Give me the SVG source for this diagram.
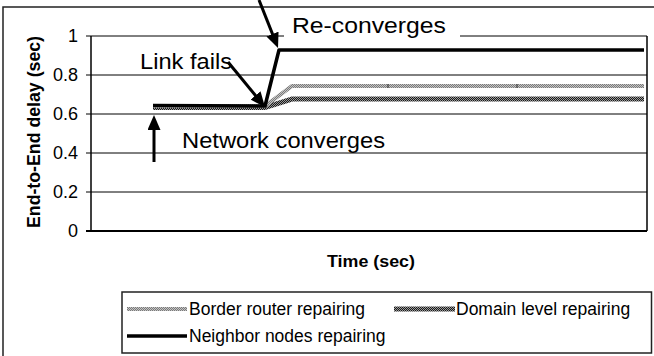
<svg xmlns="http://www.w3.org/2000/svg" width="654" height="356" viewBox="0 0 654 356">
<style>
.t{font-family:"Liberation Sans",Arial,sans-serif;fill:#000}
.tick{font-size:18px;text-anchor:end}
.ann{font-size:22.5px}
.leg{font-size:17.5px}
.b{font-weight:bold}
.grid{stroke:#000;stroke-width:1;fill:none}
.arrow{stroke:#000;stroke-width:3;fill:none;marker-end:url(#ah)}
.nb{stroke:#000;stroke-width:3.5;fill:none;stroke-linejoin:round}
.br{stroke:url(#pBorder);stroke-width:4;fill:none}
.dm{stroke:url(#pDomain);stroke-width:5;fill:none}
</style>
<defs>
<pattern id="pBorder" width="2" height="2" patternUnits="userSpaceOnUse">
<rect width="2" height="2" fill="#c4c4c4"/>
<rect width="1" height="1" fill="#7a7a7a"/>
<rect x="1" y="1" width="1" height="1" fill="#7a7a7a"/>
</pattern>
<pattern id="pDomain" width="2" height="2" patternUnits="userSpaceOnUse">
<rect width="2" height="2" fill="#1a1a1a"/>
<rect width="1" height="1" fill="#9a9a9a"/>
<rect x="1" y="1" width="1" height="1" fill="#9a9a9a"/>
</pattern>
<marker id="ah" markerUnits="userSpaceOnUse" viewBox="0 0 15 13" markerWidth="15" markerHeight="13" refX="9" refY="6.5" orient="auto">
<path d="M0,0 L15,6.5 L0,13 Z" fill="#000"/>
</marker>
</defs>
<rect width="654" height="356" fill="#fff"/>
<rect x="3" y="7" width="670" height="370" fill="none" stroke="#222" stroke-width="1.5"/>

<g id="plot-area">
<line class="grid" x1="91" y1="75" x2="647" y2="75"/>
<line class="grid" x1="91" y1="114" x2="647" y2="114"/>
<line class="grid" x1="91" y1="153" x2="647" y2="153"/>
<line class="grid" x1="91" y1="192" x2="647" y2="192"/>
<line class="grid" x1="91" y1="36" x2="647" y2="36"/>
<line x1="647" y1="36" x2="647" y2="231" stroke="#000" stroke-width="1.5"/>
<line x1="91" y1="36" x2="91" y2="231" stroke="#000" stroke-width="1.5"/>
<line x1="86" y1="231" x2="647" y2="231" stroke="#000" stroke-width="2"/>
<g stroke="#000" stroke-width="1">
<line x1="86" y1="36" x2="91" y2="36"/>
<line x1="86" y1="75" x2="91" y2="75"/>
<line x1="86" y1="114" x2="91" y2="114"/>
<line x1="86" y1="153" x2="91" y2="153"/>
<line x1="86" y1="192" x2="91" y2="192"/>
</g>
</g>

<g id="y-axis-labels">
<text class="t tick" x="78" y="42">1</text>
<text class="t tick" x="78" y="81">0.8</text>
<text class="t tick" x="78" y="120">0.6</text>
<text class="t tick" x="78" y="159">0.4</text>
<text class="t tick" x="78" y="198">0.2</text>
<text class="t tick" x="78" y="237">0</text>
<text class="t b" font-size="17.5" text-anchor="middle" textLength="192" lengthAdjust="spacingAndGlyphs" transform="translate(40,132) rotate(-90)">End-to-End delay (sec)</text>
</g>
<g id="x-axis-label">
<text class="t b" font-size="16.5" x="327" y="267" textLength="88" lengthAdjust="spacingAndGlyphs">Time (sec)</text>
</g>

<g id="series">
<polyline id="domain-level" class="dm" points="153,107.5 265,107.5 292,99 644,99"/>
<polyline id="border-router" class="br" points="153,106 265,106 292,86 644,86"/>
<g stroke="#333" stroke-width="1">
<line x1="388" y1="84" x2="388" y2="88"/>
<line x1="517" y1="84" x2="517" y2="88"/>
</g>
<polyline id="neighbor-nodes" class="nb" points="153,105.5 265,106 279,50 644,50"/>
</g>

<g id="annotation-reconverges">
<rect x="284" y="14" width="176" height="26" fill="#fff"/>
<text class="t ann" x="292" y="33" textLength="154" lengthAdjust="spacingAndGlyphs">Re-converges</text>
</g>
<g id="annotation-linkfails">
<text class="t ann" x="140" y="69" textLength="92" lengthAdjust="spacingAndGlyphs">Link fails</text>
</g>
<g id="annotation-networkconverges">
<text class="t ann" x="182" y="148" textLength="203" lengthAdjust="spacingAndGlyphs">Network converges</text>
</g>

<g id="connectors">
<line class="arrow" x1="259" y1="0" x2="275.8" y2="42.4"/>
<line class="arrow" x1="228" y1="62" x2="261.2" y2="102.4"/>
<line class="arrow" x1="154" y1="162" x2="154" y2="121"/>
</g>

<g id="legend">
<rect x="122" y="292" width="529.5" height="61" fill="#fff" stroke="#222" stroke-width="1.5"/>
<line class="br" x1="127" y1="309" x2="187" y2="309"/>
<text class="t leg" x="189" y="315">Border router repairing</text>
<line class="dm" x1="394" y1="309" x2="455" y2="309" stroke-width="4"/>
<text class="t leg" x="456" y="315">Domain level repairing</text>
<line class="nb" x1="127" y1="336" x2="187" y2="336"/>
<text class="t leg" x="189" y="342">Neighbor nodes repairing</text>
</g>
</svg>
